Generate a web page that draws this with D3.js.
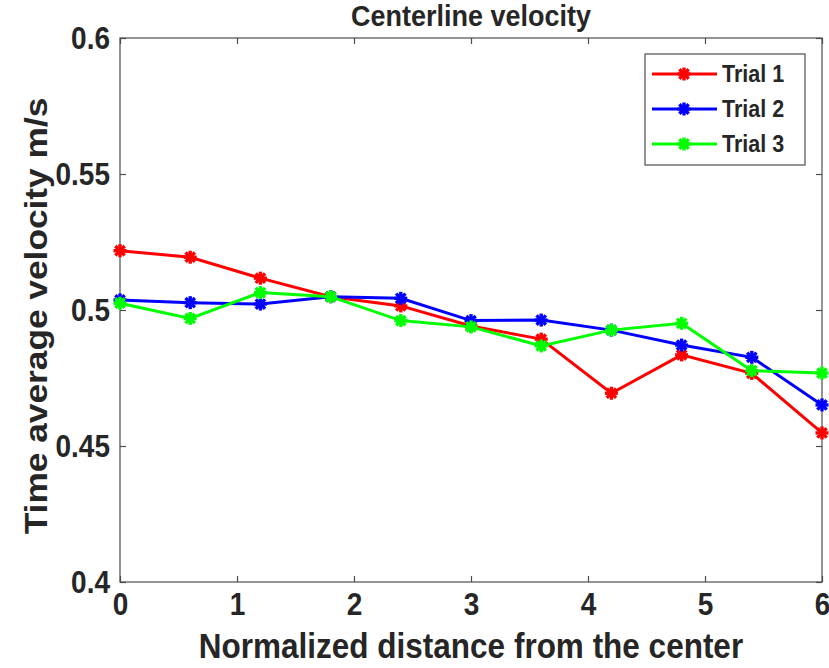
<!DOCTYPE html>
<html>
<head>
<meta charset="utf-8">
<script src="https://cdn.jsdelivr.net/npm/d3@7"></script>
<style>
  body { margin: 0; background: #fff; }
  text { font-family: "Liberation Sans", Arial, sans-serif; font-weight: bold; fill: #262626; }
</style>
</head>
<body>
<div id="chart"></div>
<script>
// data
const distance = [0, 0.6, 1.2, 1.8, 2.4, 3.0, 3.6, 4.2, 4.8, 5.4, 6.0];
const trial1 = [0.5218, 0.5194, 0.5117, 0.5049, 0.5015, 0.4941, 0.4893, 0.4694, 0.4835, 0.4767, 0.4548];
const trial2 = [0.5037, 0.5027, 0.5022, 0.5049, 0.5043, 0.4961, 0.4963, 0.4926, 0.4871, 0.4826, 0.4651];
const trial3 = [0.5025, 0.4969, 0.5064, 0.5049, 0.4961, 0.4938, 0.4868, 0.4926, 0.4951, 0.4777, 0.4768];
const seriesNames = ["Trial 1", "Trial 2", "Trial 3"];
const seriesColors = ["#ff0000", "#0000ff", "#00ff00"];
const xTicks = [0, 1, 2, 3, 4, 5, 6];
const yTicks = [0.4, 0.45, 0.5, 0.55, 0.6];

const W = 829, H = 668;
const margin = { top: 38, right: 7, bottom: 86, left: 120 };
const plotW = W - margin.left - margin.right;
const plotH = H - margin.top - margin.bottom;
const stretch = 1.12; // text in the picture is a bit taller than wide

const svg = d3.select("#chart").append("svg")
  .attr("width", W)
  .attr("height", H);

const g = svg.append("g")
  .attr("transform", `translate(${margin.left},${margin.top})`);

const x = d3.scaleLinear().domain([0, 6]).range([0, plotW]);
const y = d3.scaleLinear().domain([0.4, 0.6]).range([plotH, 0]);

const axisColor = "#4d4d4d";

// axes with inward ticks
const fmtY = d => String(+d.toFixed(2));
const xAxis = d3.axisBottom(x).tickValues(xTicks).tickSizeInner(-6).tickSizeOuter(0).tickFormat(d => d);
const yAxis = d3.axisLeft(y).tickValues(yTicks).tickSizeInner(-6).tickSizeOuter(0).tickFormat(fmtY);

const gx = g.append("g").attr("transform", `translate(0,${plotH})`).call(xAxis);
const gy = g.append("g").call(yAxis);
g.append("g").call(d3.axisTop(x).tickValues(xTicks).tickSizeInner(-6).tickSizeOuter(0).tickFormat(""));
g.append("g").attr("transform", `translate(${plotW},0)`)
  .call(d3.axisRight(y).tickValues(yTicks).tickSizeInner(-6).tickSizeOuter(0).tickFormat(""));

g.selectAll(".domain").remove();
g.selectAll(".tick line").attr("stroke", axisColor).attr("stroke-width", 1.2);

gx.selectAll(".tick text")
  .attr("font-size", 28).attr("font-family", null)
  .attr("dy", null).attr("y", null)
  .attr("transform", `translate(0,33) scale(1,${stretch})`);
gy.selectAll(".tick text")
  .attr("font-size", 28).attr("font-family", null)
  .attr("x", null).attr("dy", null)
  .attr("transform", `translate(-10,10) scale(1,${stretch})`);

g.append("rect")
  .attr("width", plotW).attr("height", plotH)
  .attr("fill", "none").attr("stroke", axisColor).attr("stroke-width", 1.2);

// lines and asterisk markers
const allSeries = [trial1, trial2, trial3];
const line = d3.line().x((d, i) => x(distance[i])).y(d => y(d));

function asterisk(sel, r) {
  sel.append("line").attr("x1", -r).attr("x2", r).attr("y1", 0).attr("y2", 0);
  sel.append("line").attr("x1", 0).attr("x2", 0).attr("y1", -r).attr("y2", r);
  const k = r * 0.72;
  sel.append("line").attr("x1", -k).attr("x2", k).attr("y1", -k).attr("y2", k);
  sel.append("line").attr("x1", -k).attr("x2", k).attr("y1", k).attr("y2", -k);
}

allSeries.forEach((vals, si) => {
  g.append("path")
    .datum(vals)
    .attr("d", line)
    .attr("fill", "none")
    .attr("stroke", seriesColors[si])
    .attr("stroke-width", 3);
  g.selectAll(".m" + si)
    .data(vals)
    .enter().append("g")
    .attr("class", "m" + si)
    .attr("transform", (d, i) => `translate(${x(distance[i])},${y(d)})`)
    .attr("stroke", seriesColors[si])
    .attr("stroke-width", 3.4)
    .each(function() { asterisk(d3.select(this), 6.5); });
});

// title and labels
svg.append("text")
  .attr("transform", `translate(${margin.left + plotW / 2},26) scale(1,${stretch})`)
  .attr("text-anchor", "middle")
  .attr("font-size", 27)
  .text("Centerline velocity");

svg.append("text")
  .attr("transform", `translate(${margin.left + plotW / 2},658) scale(1,${stretch})`)
  .attr("text-anchor", "middle")
  .attr("font-size", 31.5)
  .text("Normalized distance from the center");

svg.append("text")
  .attr("transform", `translate(47,${margin.top + plotH / 2 + 6}) rotate(-90) scale(${stretch},1)`)
  .attr("text-anchor", "middle")
  .attr("font-size", 31.5)
  .text("Time average velocity m/s");

// legend
const legend = svg.append("g").attr("transform", "translate(645,54)");
legend.append("rect")
  .attr("width", 160).attr("height", 111)
  .attr("fill", "#fff").attr("stroke", axisColor).attr("stroke-width", 1.2);
seriesNames.forEach((name, i) => {
  const row = legend.append("g").attr("transform", `translate(0,${20 + i * 35})`);
  row.append("line")
    .attr("x1", 7).attr("x2", 72)
    .attr("stroke", seriesColors[i]).attr("stroke-width", 3);
  row.append("g")
    .attr("transform", "translate(39,0)")
    .attr("stroke", seriesColors[i]).attr("stroke-width", 3.4)
    .call(s => asterisk(s, 6.5));
  row.append("text")
    .attr("transform", `translate(77,8) scale(1,${stretch})`)
    .attr("font-size", 21.5)
    .text(name);
});
</script>
</body>
</html>
